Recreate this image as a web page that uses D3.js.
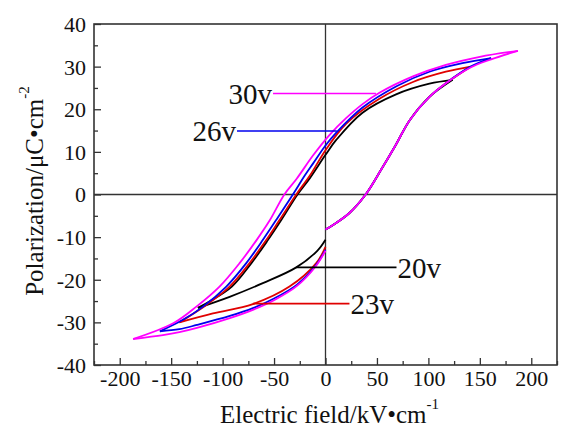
<!DOCTYPE html>
<html><head><meta charset="utf-8">
<script src="https://cdn.jsdelivr.net/npm/d3@7"></script>
<style>body{margin:0;background:#fff}svg{display:block}
text{font-family:"Liberation Serif","Tinos","Times New Roman","Nimbus Roman","DejaVu Serif","Noto Serif",serif !important;fill:#111}</style>
</head><body><svg id="c" width="562" height="428"></svg>
<script>
// ---- data (E in kV/cm, P in µC/cm²) ----
const xTicks = [-200,-150,-100,-50,0,50,100,150,200];
const yTicks = [-40,-30,-20,-10,0,10,20,30,40];
const seriesNames = ["20v","23v","26v","30v"];
const seriesColors = ["#000000","#e00000","#0000ee","#ff00ff"];
// descending branch (from +Emax to -Emax)
const desc20 = [[123.6,26.9],[101,26],[68.6,23.5],[36,19.2],[10.4,12.8],[0,9.3],[-15,3.9],[-27.2,0],[-43,-6],[-56,-10.7],[-72,-16.1],[-91,-21.6],[-112,-25],[-124,-26.6]];
const desc23 = [[141,30],[117,28.8],[85,26.4],[52,22.4],[20,16.6],[0,10.4],[-15,4.5],[-28.4,0],[-44.7,-6],[-57.6,-10.7],[-73.8,-16.1],[-93.2,-21.6],[-115.8,-25.9],[-142,-30]];
const desc26 = [[161,32],[133,30.8],[101,28.8],[69,25.4],[36,20.4],[10.5,14.5],[0,11.5],[-12,7.3],[-20,4.5],[-31.7,0],[-48,-6],[-61,-10.7],[-77,-16.1],[-96.4,-21.6],[-119,-26.3],[-138.5,-29.4],[-161,-32.1]];
const desc30 = [[187,33.7],[150,32.3],[117,30.4],[85,27.7],[52,23.8],[36,21.2],[20,17.9],[4,14],[-12,9.2],[-28,3.7],[-40,0],[-54,-6],[-67,-10.7],[-83.5,-16.1],[-103,-21.6],[-125.5,-26.3],[-148,-30.2],[-187,-33.9]];
// lower ascending branch (from -Emax to E = 0)
const low20 = [[-124,-26.6],[-93.2,-24],[-60.9,-20.8],[-28.4,-17.1],[-8,-13.2],[0,-10.6]];
const low23 = [[-142,-30],[-109.4,-27.9],[-70.6,-25.7],[-35,-21.6],[-9,-16.1],[0,-12.3]];
const low26 = [[-161,-32.1],[-142,-31.6],[-125,-30.6],[-93,-28.5],[-70,-26.6],[-50,-24.4],[-28,-21.2],[-10,-16.8],[0,-13]];
const low30 = [[-187,-33.9],[-158,-33],[-142,-32.3],[-125,-31.3],[-93,-29],[-70,-27],[-50,-24.8],[-28,-21.5],[-10,-17],[0,-13.2]];
// upper ascending branch (from E = 0 to +Emax)
const up20 = [[0,-8.2],[7,-7.2],[23,-4.4],[39,0],[54,5.8],[68,11.5],[82,17.5],[101,22.9],[123.6,26.9]];
const up23 = [[0,-8.2],[7,-7.2],[23,-4.4],[39,0],[54,5.8],[68,11.5],[82,17.5],[101,22.9],[117,26.1],[141,30]];
const up26 = [[0,-8.2],[7,-7.2],[23,-4.4],[39,0],[54,5.8],[68,11.5],[82,17.5],[101,22.9],[117,26.1],[141,30],[161,32]];
const up30 = [[0,-8.2],[7,-7.2],[23,-4.4],[39,0],[54,5.8],[68,11.5],[82,17.5],[101,22.9],[117,26.1],[141,29.8],[161,31.7],[187,33.7]];
// annotation leader lines: [label, E_start, E_end, P]
const labels = [["30v",-51,49,23.7],["26v",-86,11,14.9],["20v",-28.4,69,-17.1],["23v",-70.6,23.3,-25.6]];

// ---- drawing ----
const svg = d3.select("#c");
const L=94, R=557, T=24, B=365;
const x = d3.scaleLinear().domain([-225,225]).range([L,R]);
const y = d3.scaleLinear().domain([-40,40]).range([B,T]);
const axc = "#333";

const loops = [
  {name:"20v", branches:[desc20,low20,up20]},
  {name:"23v", branches:[desc23,low23,up23]},
  {name:"26v", branches:[desc26,low26,up26]},
  {name:"30v", branches:[desc30,low30,up30]}
];

// zero lines
svg.append("line").attr("x1",x(0)).attr("x2",x(0)).attr("y1",T).attr("y2",B).attr("stroke",axc).attr("stroke-width",1.3);
svg.append("line").attr("x1",L).attr("x2",R).attr("y1",y(0)).attr("y2",y(0)).attr("stroke",axc).attr("stroke-width",1.3);

// axes
const xMinor = d3.range(-225,226,25).filter(v=>v%50!==0);
const yMinor = d3.range(-35,40,10);
const gx = svg.append("g").attr("transform",`translate(0,${B})`)
  .call(d3.axisBottom(x).tickValues(xTicks).tickSize(-7).tickPadding(14));
svg.append("g").attr("transform",`translate(0,${B})`)
  .call(d3.axisBottom(x).tickValues(xMinor).tickSize(-4).tickFormat(""));
const gy = svg.append("g").attr("transform",`translate(${L},0)`)
  .call(d3.axisLeft(y).tickValues(yTicks).tickSize(-7).tickPadding(8));
svg.append("g").attr("transform",`translate(${L},0)`)
  .call(d3.axisLeft(y).tickValues(yMinor).tickSize(-4).tickFormat(""));
svg.selectAll(".tick line").attr("stroke",axc).attr("stroke-width",1.3);
svg.selectAll(".domain").remove();
gx.selectAll("text").attr("font-size",22).attr("fill","#111").attr("dy","0.3em").text(d=>String(d));
gy.selectAll("text").attr("font-size",22).attr("fill","#111").attr("dy","0.34em").text(d=>String(d));

// frame
svg.append("rect").attr("x",L).attr("y",T).attr("width",R-L).attr("height",B-T)
  .attr("fill","none").attr("stroke",axc).attr("stroke-width",1.6);

// loops
const line = d3.line().x(d=>x(d[0])).y(d=>y(d[1])).curve(d3.curveCatmullRom.alpha(0.5));
loops.forEach((lp,i)=>{
  lp.branches.forEach(b=>{
    svg.append("path").attr("d",line(b)).attr("fill","none")
      .attr("stroke",seriesColors[i]).attr("stroke-width",1.8).attr("stroke-linejoin","round");
  });
});

// annotations
labels.forEach(lb=>{
  const i = seriesNames.indexOf(lb[0]);
  svg.append("line").attr("x1",x(lb[1])).attr("x2",x(lb[2])).attr("y1",y(lb[3])).attr("y2",y(lb[3]))
    .attr("stroke",seriesColors[i]).attr("stroke-width",1.7);
  const t = svg.append("text").attr("font-size",29).attr("dy","0.36em").text(lb[0]);
  if (lb[0]==="30v"||lb[0]==="26v") t.attr("x",x(lb[1])-1).attr("y",y(lb[3])).attr("text-anchor","end");
  else t.attr("x",x(lb[2])+1).attr("y",y(lb[3])).attr("text-anchor","start");
});

// axis titles
const xt = svg.append("text").attr("x",(L+R)/2+4).attr("y",423).attr("text-anchor","middle").attr("font-size",25);
xt.append("tspan").text("Electric field/kV•cm");
xt.append("tspan").attr("font-size",15).attr("dy","-0.95em").text("-1");
const yt = svg.append("text").attr("transform",`translate(43,191) rotate(-90)`).attr("text-anchor","middle").attr("font-size",25);
yt.append("tspan").text("Polarization/μC•cm");
yt.append("tspan").attr("font-size",15).attr("dy","-0.95em").text("-2");
</script></body></html>
